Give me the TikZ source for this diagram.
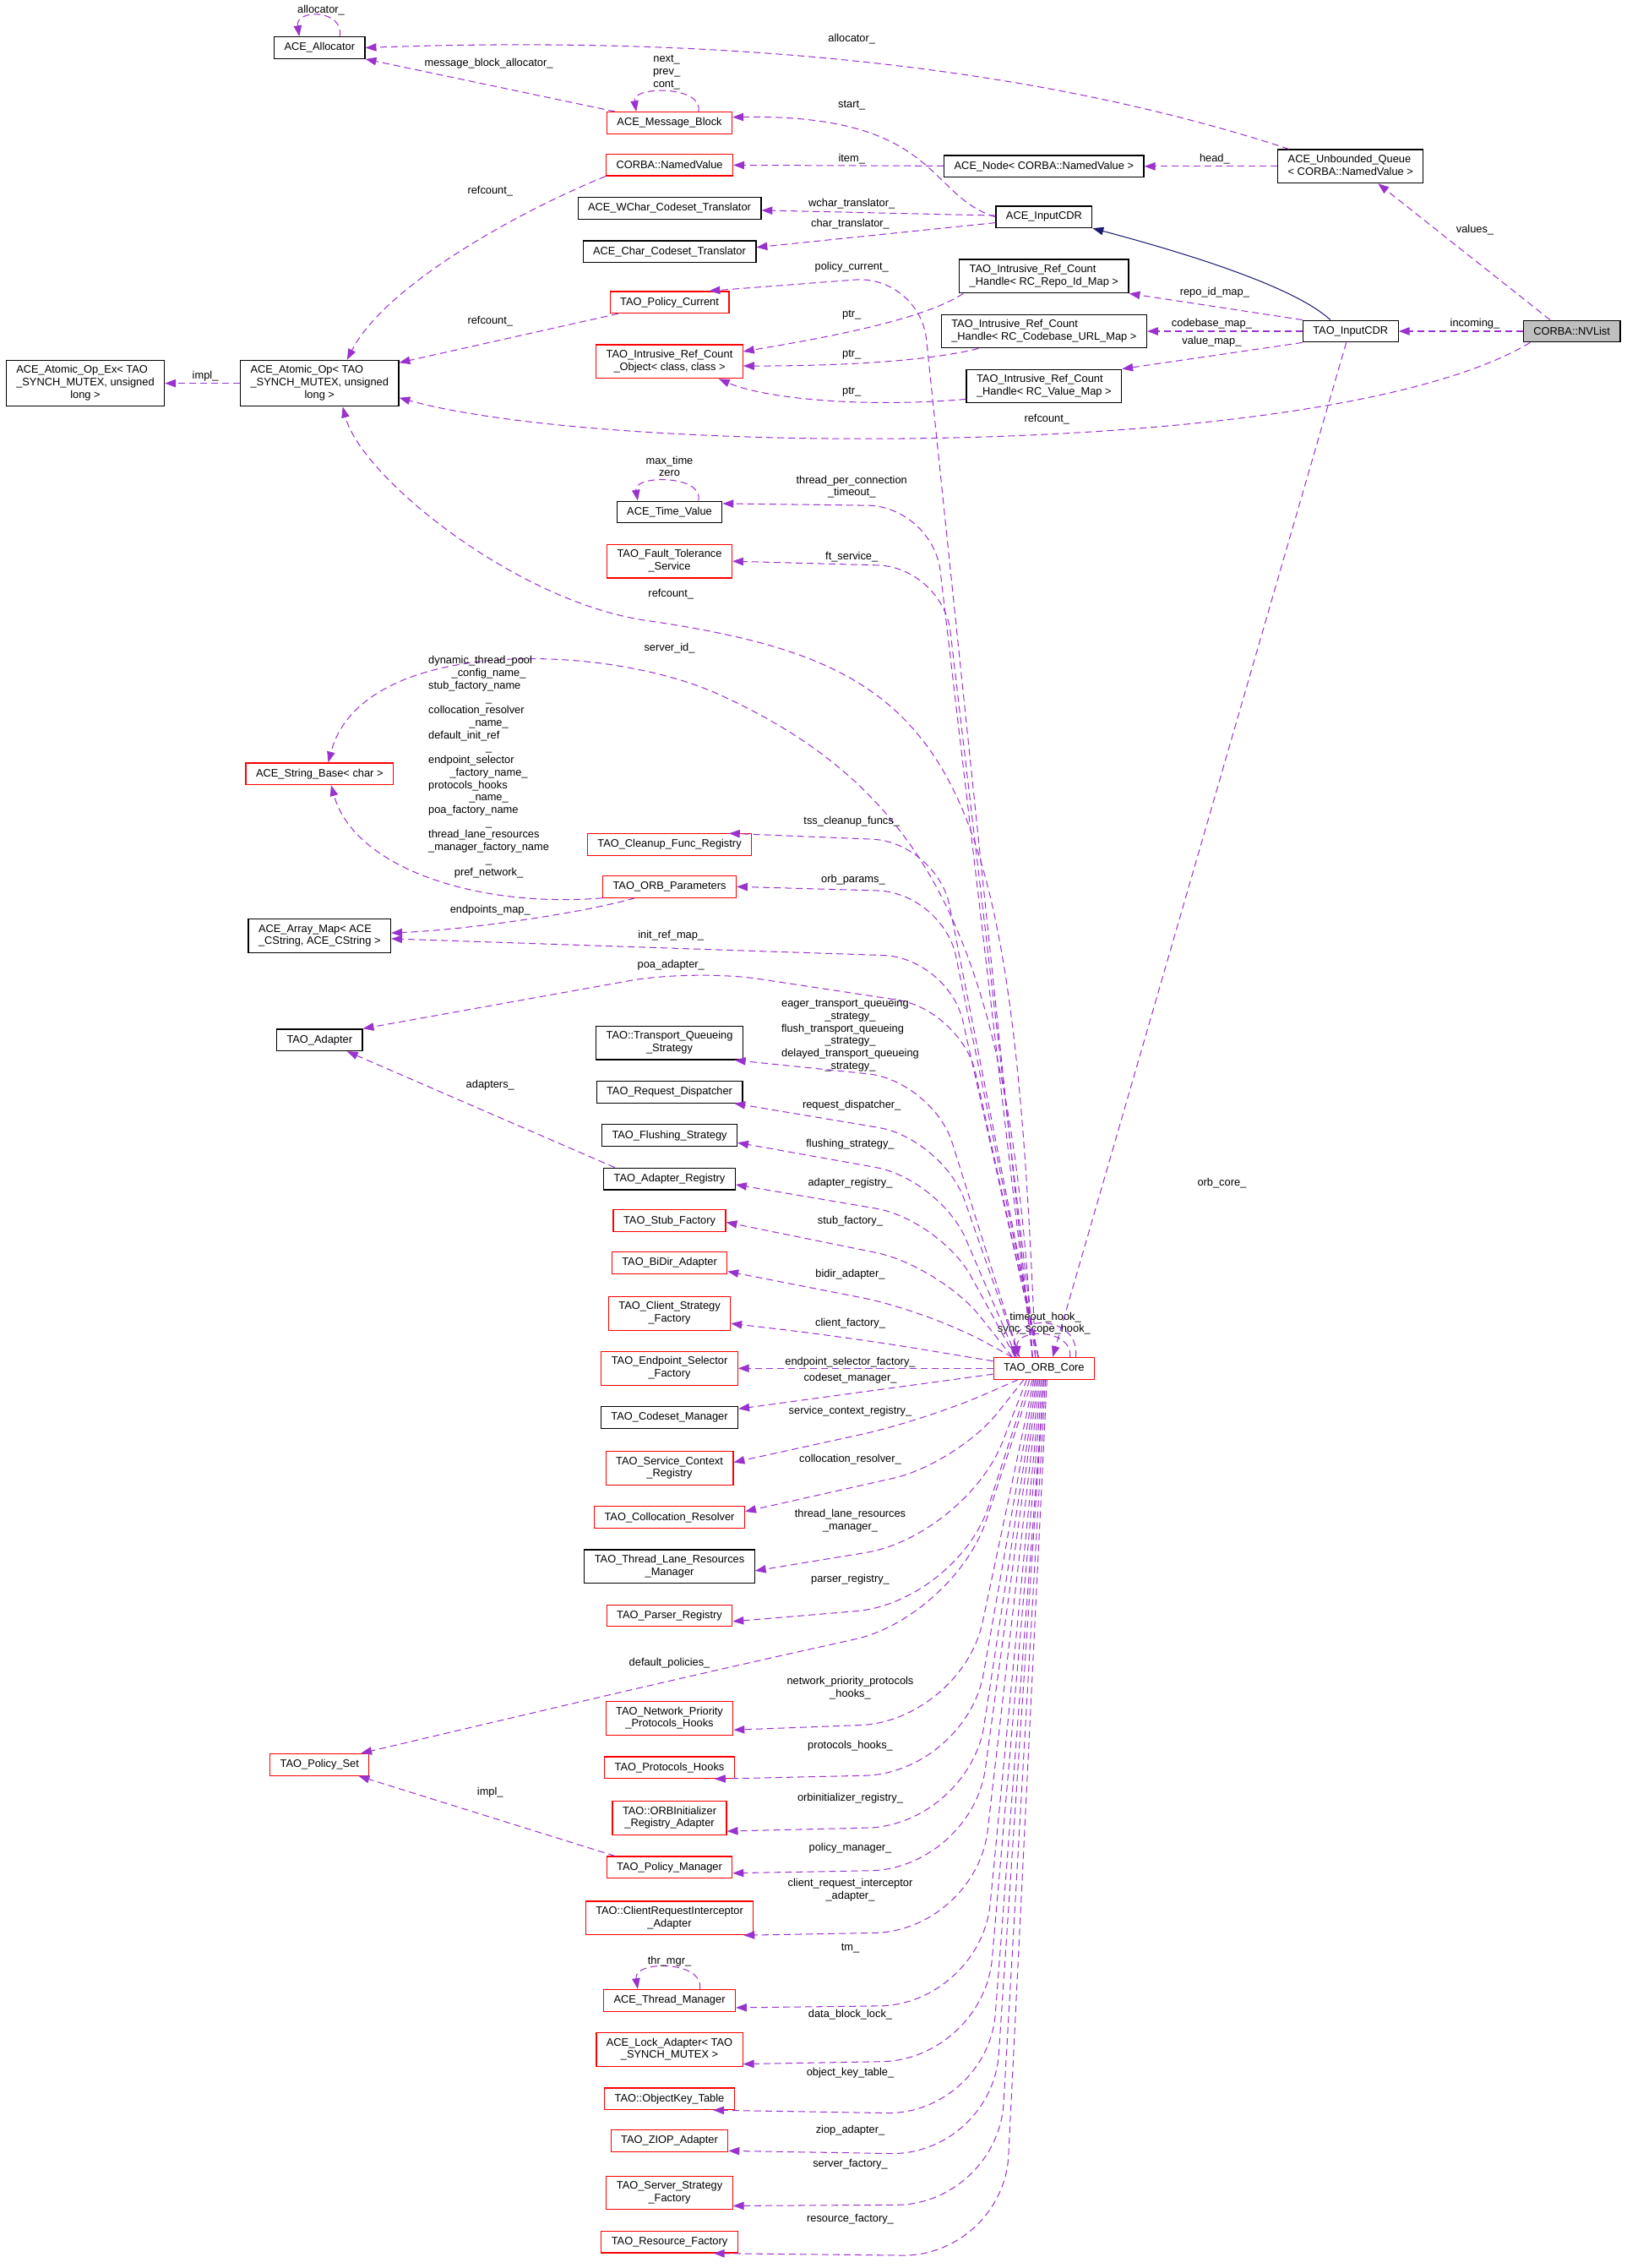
\documentclass[tikz,border=0pt]{standalone}
\usepackage{fontspec}
\setmainfont{Liberation Sans}
\usetikzlibrary{arrows.meta}
\definecolor{orchid}{HTML}{9A32CD}
\definecolor{midnight}{HTML}{191970}
% first lines left, last line centred (as in the class boxes)
\newcommand{\cl}[1]{\multicolumn{1}{@{}c@{}}{#1}}
\newcommand{\ml}[1]{\begin{tabular}{@{}l@{}}#1\end{tabular}}

\begin{document}
\begin{tikzpicture}[x=1pt,y=1pt,
    every node/.style={font=\fontsize{7.5}{8.6}\selectfont},
    cls/.style={draw=black,line width=0.7pt,inner xsep=7pt,inner ysep=3pt,minimum height=15pt},
    redcls/.style={cls,draw=red},
    graycls/.style={cls,fill=gray!50},
    dep/.style={draw=orchid,line width=0.6pt,dash pattern=on 4.7pt off 2.9pt,-{Triangle[length=7.5pt,width=5.5pt]}},
    isa/.style={draw=midnight,line width=0.6pt,-{Triangle[length=7.5pt,width=5.5pt]}},
    lbl/.style={inner sep=0pt,align=center},
    elbow/.style={rounded corners=45pt},
    longelbow/.style={rounded corners=70pt}]

\useasboundingbox (0,0) rectangle (1125,-1568);

% Classes, top part
\node[cls] (alloc) at (221,-33) {ACE\_Allocator};
\node[redcls] (msgblk) at (463,-85) {ACE\_Message\_Block};
\node[redcls] (namedval) at (463,-114) {CORBA::NamedValue};
\node[cls] (wchar) at (463,-144) {ACE\_WChar\_Codeset\_Translator};
\node[cls] (chartr) at (463,-174) {ACE\_Char\_Codeset\_Translator};
\node[redcls] (pcur) at (463,-209) {TAO\_Policy\_Current};
\node[redcls] (refobj) at (463,-250) {\ml{TAO\_Intrusive\_Ref\_Count\\\cl{\_Object< class, class >}}};
\node[cls] (atomex) at (59,-265) {\ml{ACE\_Atomic\_Op\_Ex< TAO\\\_SYNCH\_MUTEX, unsigned\\\cl{long >}}};
\node[cls] (atom) at (221,-265) {\ml{ACE\_Atomic\_Op< TAO\\\_SYNCH\_MUTEX, unsigned\\\cl{long >}}};
\node[cls] (acenode) at (722,-115) {ACE\_Node< CORBA::NamedValue >};
\node[cls] (icdr) at (722,-150) {ACE\_InputCDR};
\node[cls] (hrepo) at (722,-191) {\ml{TAO\_Intrusive\_Ref\_Count\\\cl{\_Handle< RC\_Repo\_Id\_Map >}}};
\node[cls] (hcode) at (722,-229) {\ml{TAO\_Intrusive\_Ref\_Count\\\cl{\_Handle< RC\_Codebase\_URL\_Map >}}};
\node[cls] (hvalue) at (722,-267) {\ml{TAO\_Intrusive\_Ref\_Count\\\cl{\_Handle< RC\_Value\_Map >}}};
\node[cls] (uqueue) at (934,-115) {\ml{ACE\_Unbounded\_Queue\\\cl{< CORBA::NamedValue >}}};
\node[cls] (tcdr) at (934,-229) {TAO\_InputCDR};
\node[graycls] (nvlist) at (1087,-229) {CORBA::NVList};

% Classes, left columns
\node[cls] (timev) at (463,-354) {ACE\_Time\_Value};
\node[redcls] (ftol) at (463,-388) {\ml{TAO\_Fault\_Tolerance\\\cl{\_Service}}};
\node[redcls] (strbase) at (221,-535) {ACE\_String\_Base< char >};
\node[redcls] (cleanup) at (463,-584) {TAO\_Cleanup\_Func\_Registry};
\node[redcls] (orbparams) at (463,-613) {TAO\_ORB\_Parameters};
\node[cls] (arraymap) at (221,-647) {\ml{ACE\_Array\_Map< ACE\\\cl{\_CString, ACE\_CString >}}};
\node[cls] (adapter) at (221,-719) {TAO\_Adapter};
\node[cls] (tqs) at (463,-721) {\ml{TAO::Transport\_Queueing\\\cl{\_Strategy}}};
\node[cls] (reqdisp) at (463,-755) {TAO\_Request\_Dispatcher};
\node[cls] (flush) at (463,-785) {TAO\_Flushing\_Strategy};
\node[cls] (adreg) at (463,-815) {TAO\_Adapter\_Registry};
\node[redcls] (stubf) at (463,-844) {TAO\_Stub\_Factory};
\node[redcls] (bidir) at (463,-873) {TAO\_BiDir\_Adapter};
\node[redcls] (clientsf) at (463,-908) {\ml{TAO\_Client\_Strategy\\\cl{\_Factory}}};
\node[redcls] (epsel) at (463,-946) {\ml{TAO\_Endpoint\_Selector\\\cl{\_Factory}}};
\node[cls] (codeset) at (463,-980) {TAO\_Codeset\_Manager};
\node[redcls] (svcctx) at (463,-1015) {\ml{TAO\_Service\_Context\\\cl{\_Registry}}};
\node[redcls] (colloc) at (463,-1049) {TAO\_Collocation\_Resolver};
\node[cls] (tlrm) at (463,-1083) {\ml{TAO\_Thread\_Lane\_Resources\\\cl{\_Manager}}};
\node[redcls] (parser) at (463,-1117) {TAO\_Parser\_Registry};
\node[redcls] (polset) at (221,-1220) {TAO\_Policy\_Set};
\node[redcls] (netprio) at (463,-1188) {\ml{TAO\_Network\_Priority\\\cl{\_Protocols\_Hooks}}};
\node[redcls] (protohooks) at (463,-1222) {TAO\_Protocols\_Hooks};
\node[redcls] (orbinit) at (463,-1257) {\ml{TAO::ORBInitializer\\\cl{\_Registry\_Adapter}}};
\node[redcls] (polmgr) at (463,-1291) {TAO\_Policy\_Manager};
\node[redcls] (cria) at (463,-1326) {\ml{TAO::ClientRequestInterceptor\\\cl{\_Adapter}}};
\node[redcls] (thrmgr) at (463,-1383) {ACE\_Thread\_Manager};
\node[redcls] (lockad) at (463,-1417) {\ml{ACE\_Lock\_Adapter< TAO\\\cl{\_SYNCH\_MUTEX >}}};
\node[redcls] (objkey) at (463,-1451) {TAO::ObjectKey\_Table};
\node[redcls] (ziop) at (463,-1480) {TAO\_ZIOP\_Adapter};
\node[redcls] (ssf) at (463,-1516) {\ml{TAO\_Server\_Strategy\\\cl{\_Factory}}};
\node[redcls] (resf) at (463,-1550) {TAO\_Resource\_Factory};
\node[redcls] (core) at (722,-946) {TAO\_ORB\_Core};

% Self references
\draw[dep] ([xshift=14pt]alloc.north) .. controls +(3,19) and +(-3,19) .. ([xshift=-14pt]alloc.north) node[lbl] at (222,-7) {allocator\_};
\draw[dep] ([xshift=20pt]msgblk.north) .. controls +(4,18) and +(-3,18) .. ([xshift=-23pt]msgblk.north) node[lbl] at (461,-50) {next\_\\prev\_\\cont\_};
\draw[dep] ([xshift=20pt]timev.north) .. controls +(4,18) and +(-3,18) .. ([xshift=-22pt]timev.north) node[lbl] at (463,-322.5) {max\_time\\zero};
\draw[dep] ([xshift=21pt]thrmgr.north) .. controls +(3,20) and +(-3,20) .. ([xshift=-22pt]thrmgr.north) node[lbl] at (463,-1356) {thr\_mgr\_};
\draw[dep] ([xshift=22pt]core.north) .. controls +(3,30) and +(-3,30) .. ([xshift=-20pt]core.north) node[lbl] at (723,-911) {timeout\_hook\_};
\draw[dep] ([xshift=18pt]core.north) .. controls +(2,20) and +(-2,20) .. ([xshift=-18pt]core.north) node[lbl] at (722,-919) {sync\_scope\_hook\_};

% Members of the top classes
\draw[dep] ([xshift=6pt]msgblk.north west) -- (alloc.south east) node[lbl] at (338,-44) {message\_block\_allocator\_};
\draw[dep] ([xshift=8pt]uqueue.north west) .. controls (760,-60) and (560,-22) .. (alloc.east) node[lbl] at (589,-27) {allocator\_};
\draw[dep] (icdr.west) .. controls (640,-135) and (650,-79) .. ([yshift=4pt]msgblk.east) node[lbl] at (589,-73) {start\_};
\draw[dep] (acenode) -- (namedval) node[lbl] at (589,-110) {item\_};
\draw[dep] (uqueue) -- (acenode) node[lbl] at (840,-110) {head\_};
\draw[dep] ([yshift=1pt]icdr.west) -- (wchar) node[lbl] at (589,-141) {wchar\_translator\_};
\draw[dep] ([yshift=-4pt]icdr.west) -- ([yshift=3pt]chartr.east) node[lbl] at (588,-155) {char\_translator\_};
\draw[dep] (namedval.south west) .. controls (350,-150) and (265,-200) .. ([xshift=19pt]atom.north) node[lbl] at (339,-132) {refcount\_};
\draw[dep] ([xshift=6pt]pcur.south west) -- ([yshift=-2pt]atom.north east) node[lbl] at (339,-222) {refcount\_};
\draw[dep] (atom) -- (atomex) node[lbl] at (142,-260) {impl\_};
\draw[dep] ([xshift=3pt]hrepo.south west) .. controls (640,-220) and (580,-232) .. ([yshift=7pt]refobj.east) node[lbl] at (589,-218) {ptr\_};
\draw[dep] ([xshift=26pt]hcode.south west) .. controls (640,-250) and (580,-253) .. ([yshift=-3pt]refobj.east) node[lbl] at (589,-245) {ptr\_};
\draw[dep] ([yshift=3pt]hvalue.south west) .. controls (600,-282) and (530,-276) .. ([xshift=-17pt]refobj.south east) node[lbl] at (589,-271) {ptr\_};

% TAO_InputCDR and CORBA::NVList
\draw[isa] ([xshift=-14pt]tcdr.north) .. controls (895,-198) and (820,-175) .. (icdr.south east);
\draw[dep] (tcdr.north west) -- (hrepo.south east) node[lbl] at (840,-202) {repo\_id\_map\_};
\draw[dep] (tcdr) -- (hcode) node[lbl] at (838,-224) {codebase\_map\_};
\draw[dep] (tcdr.south west) -- (hvalue.north east) node[lbl] at (838,-236) {value\_map\_};
\draw[dep] (nvlist) -- (tcdr) node[lbl] at (1020,-224) {incoming\_};
\draw[dep] ([xshift=-15pt]nvlist.north) -- ([xshift=19pt]uqueue.south) node[lbl] at (1020,-159) {values\_};
\draw[dep] ([xshift=5pt]nvlist.south west) .. controls (920,-320) and (420,-315) .. ([yshift=-10pt]atom.east) node[lbl] at (724,-290) {refcount\_};
\draw[dep] ([xshift=-3pt]tcdr.south) -- ([xshift=6pt]core.north) node[lbl] at (845,-818) {orb\_core\_};

% TAO_ORB_Core members above it
\draw[dep,elbow] ([xshift=-8pt]core.north) -- (636,-190) -- ([xshift=-14pt]pcur.north east) node[lbl] at (589,-185) {policy\_current\_};
\draw[dep,elbow] ([xshift=-8pt]core.north) -- (645,-350) -- ([yshift=-2pt]timev.north east) node[lbl] at (589,-336.5) {thread\_per\_connection\\\_timeout\_};
\draw[dep,elbow] ([xshift=-6pt]core.north) -- (652,-392) -- (ftol.east) node[lbl] at (589,-385) {ft\_service\_};
\draw[dep] ([xshift=-6pt]core.north) .. controls (700,-520) and (660,-460) .. (447,-429) .. controls (357,-416) and (250,-330) .. ([xshift=16pt]atom.south) node[lbl] at (464,-411) {refcount\_};
\draw[dep] ([xshift=-8pt]core.north) .. controls (700,-650) and (640,-545) .. (497,-480) .. controls (417,-444) and (250,-440) .. ([xshift=6pt]strbase.north) node[lbl] at (463,-448) {server\_id\_};
\draw[dep] (orbparams.south west) .. controls (330,-628) and (245,-600) .. ([xshift=8pt]strbase.south) node[lbl] at (338,-530.5) {\ml{dynamic\_thread\_pool\\\cl{\_config\_name\_}\\stub\_factory\_name\\\cl{\_}\\collocation\_resolver\\\cl{\_name\_}\\default\_init\_ref\\\cl{\_}\\endpoint\_selector\\\cl{\_factory\_name\_}\\protocols\_hooks\\\cl{\_name\_}\\poa\_factory\_name\\\cl{\_}\\thread\_lane\_resources\\\_manager\_factory\_name\\\cl{\_}\\\cl{pref\_network\_}}};
\draw[dep] ([xshift=-24pt]orbparams.south) .. controls (400,-632) and (320,-643) .. ([yshift=2pt]arraymap.east) node[lbl] at (339,-629) {endpoints\_map\_};
\draw[dep,elbow] ([xshift=-4pt]core.north) -- (648,-582) -- ([xshift=-16pt]cleanup.north east) node[lbl] at (589,-568) {tss\_cleanup\_funcs\_};
\draw[dep,elbow] ([xshift=-4pt]core.north) -- (652,-617) -- (orbparams.east) node[lbl] at (590,-608) {orb\_params\_};
\draw[dep,elbow] ([xshift=-4pt]core.north) -- (656,-662) -- ([yshift=-2pt]arraymap.east) node[lbl] at (464,-647) {init\_ref\_map\_};
\draw[dep,elbow] ([xshift=-4pt]core.north) -- (665,-698) -- (480,-670) -- (adapter.north east) node[lbl] at (464,-667) {poa\_adapter\_};
\draw[dep,elbow] ([xshift=-17pt]core.north) -- (645,-747) -- ([xshift=-6pt]tqs.south east) node[lbl] at (588,-716) {\ml{eager\_transport\_queueing\\\cl{\_strategy\_}\\flush\_transport\_queueing\\\cl{\_strategy\_}\\delayed\_transport\_queueing\\\cl{\_strategy\_}}};
\draw[dep,elbow] ([xshift=-17pt]core.north) -- (652,-787) -- ([xshift=-6pt]reqdisp.south east) node[lbl] at (589,-764) {request\_dispatcher\_};
\draw[dep,elbow] ([xshift=-19pt]core.north) -- (650,-815) -- ([yshift=-5pt]flush.east) node[lbl] at (588,-791) {flushing\_strategy\_};
\draw[dep,elbow] ([xshift=-20pt]core.north) -- (650,-843) -- ([yshift=-4pt]adreg.east) node[lbl] at (588,-818) {adapter\_registry\_};
\draw[dep] ([xshift=8pt]adreg.north west) -- ([xshift=19pt]adapter.south) node[lbl] at (339,-750) {adapters\_};
\draw[dep,elbow] ([xshift=-22pt]core.north) -- (650,-875) -- ([yshift=-1pt]stubf.east) node[lbl] at (588,-844) {stub\_factory\_};
\draw[dep,elbow] ([xshift=-22pt]core.north) -- (641,-906) -- ([yshift=-6pt]bidir.east) node[lbl] at (588,-881) {bidir\_adapter\_};
\draw[dep,elbow] ([yshift=5pt]core.west) -- (590,-925) -- ([yshift=-7pt]clientsf.east) node[lbl] at (588,-915) {client\_factory\_};
\draw[dep] (core) -- (epsel) node[lbl] at (588,-942) {endpoint\_selector\_factory\_};
\draw[dep] ([yshift=-4pt]core.west) -- ([yshift=6pt]codeset.east) node[lbl] at (588,-953) {codeset\_manager\_};

% TAO_ORB_Core members below it
\draw[dep,elbow] ([xshift=-18pt]core.south) -- (640,-982) -- ([yshift=4pt]svcctx.east) node[lbl] at (588,-976) {service\_context\_registry\_};
\draw[dep,elbow] ([xshift=-14pt]core.south) -- (662,-1012) -- ([yshift=4pt]colloc.east) node[lbl] at (588,-1009) {collocation\_resolver\_};
\draw[dep,longelbow] ([xshift=-12pt]core.south) -- (668,-1062) -- ([yshift=-3pt]tlrm.east) node[lbl] at (588,-1051.5) {thread\_lane\_resources\\\_manager\_};
\draw[dep,longelbow] ([xshift=-10pt]core.south) -- (662,-1108) -- ([yshift=-4pt]parser.east) node[lbl] at (588,-1092) {parser\_registry\_};
\draw[dep,longelbow] ([xshift=-8pt]core.south) -- (660,-1118) -- (480,-1158) -- ([xshift=-6pt]polset.north east) node[lbl] at (463,-1150) {default\_policies\_};
\draw[dep,longelbow] ([xshift=-7pt]core.south) -- (665,-1190) -- ([yshift=-8pt]netprio.east) node[lbl] at (588,-1167) {network\_priority\_protocols\\\_hooks\_};
\draw[dep,longelbow] ([xshift=-6pt]core.south) -- (668,-1226) -- ([xshift=-14pt]protohooks.south east) node[lbl] at (588,-1207) {protocols\_hooks\_};
\draw[dep,longelbow] ([xshift=-5pt]core.south) -- (670,-1262) -- ([yshift=-9pt]orbinit.east) node[lbl] at (588,-1243) {orbinitializer\_registry\_};
\draw[dep,longelbow] ([xshift=-4pt]core.south) -- (672,-1292) -- ([yshift=-4pt]polmgr.east) node[lbl] at (588,-1278) {policy\_manager\_};
\draw[dep] ([xshift=6pt]polmgr.north west) -- ([xshift=27pt]polset.south) node[lbl] at (339,-1239) {impl\_};
\draw[dep,longelbow] ([xshift=-3pt]core.south) -- (675,-1335) -- ([xshift=-7pt]cria.south east) node[lbl] at (588,-1306.5) {client\_request\_interceptor\\\_adapter\_};
\draw[dep,longelbow] ([xshift=-2pt]core.south) -- (678,-1386) -- ([yshift=-5pt]thrmgr.east) node[lbl] at (588,-1347) {tm\_};
\draw[dep,longelbow] ([xshift=-1pt]core.south) -- (680,-1424) -- ([yshift=-10pt]lockad.east) node[lbl] at (588,-1393) {data\_block\_lock\_};
\draw[dep,longelbow] (core.south) -- (683,-1462) -- ([xshift=-15pt]objkey.south east) node[lbl] at (588,-1433) {object\_key\_table\_};
\draw[dep,longelbow] (core.south) -- (686,-1490) -- ([yshift=-7pt]ziop.east) node[lbl] at (588,-1473) {ziop\_adapter\_};
\draw[dep,longelbow] ([xshift=1pt]core.south) -- (690,-1524) -- ([yshift=-9pt]ssf.east) node[lbl] at (588,-1496) {server\_factory\_};
\draw[dep,longelbow] ([xshift=2pt]core.south) -- (694,-1560) -- ([xshift=-17pt]resf.south east) node[lbl] at (588,-1534) {resource\_factory\_};

\end{tikzpicture}
\end{document}
